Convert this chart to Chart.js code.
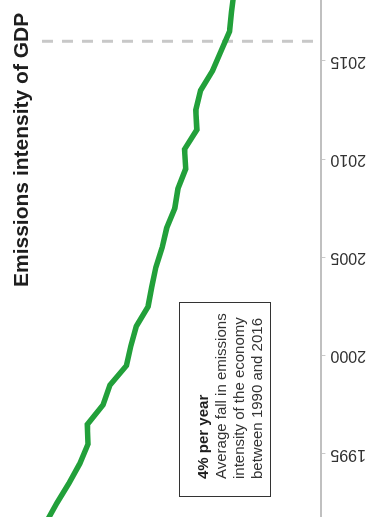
<!DOCTYPE html>
<html lang="en">
<head>
<meta charset="utf-8">
<title>Emissions intensity of GDP</title>
<script src="https://cdn.jsdelivr.net/npm/chart.js@4"></script>
<style>
  html, body { margin: 0; padding: 0; background: #fff; overflow: hidden; }
  body { width: 382px; height: 517px; position: relative; }
  /* El gráfico se dibuja en horizontal y se gira -90° para quedar como el original */
  #lienzo {
    position: absolute; left: 0; top: 0;
    width: 517px; height: 382px;
    transform-origin: 0 0;
    transform: translateY(517px) rotate(-90deg);
    font-family: "Liberation Sans", Arial, sans-serif;
  }
  #grafico { position: absolute; left: 0; top: 0; }
  .titulo {
    position: absolute; left: 230px; top: 10px;
    font-size: 21px; line-height: 21px; font-weight: bold;
    color: #1e1e1e; white-space: nowrap;
  }
  .nota {
    position: absolute; left: 20px; top: 179px;
    width: 195px; height: 92px; box-sizing: border-box;
    border: 1.3px solid #333; padding: 14px 0 0 17px;
    font-size: 15px; line-height: 18px; color: #333;
    background: #fff; white-space: nowrap;
  }
  .nota strong { color: #1e1e1e; }
</style>
</head>
<body>
<div id="lienzo">
  <canvas id="grafico" width="517" height="382"></canvas>
  <div class="titulo">Emissions intensity of GDP</div>
  <div class="nota">
    <strong>4% per year</strong><br>
    Average fall in emissions<br>
    intensity of the economy<br>
    between 1990 and 2016
  </div>
</div>
<script>
// Intensidad de emisiones (índice aprox., 1990 ≈ 100), un valor por año,
// dibujado a mitad de año.
const ANIOS = [1990, 1991, 1992, 1993, 1994, 1995, 1996, 1997, 1998, 1999,
               2000, 2001, 2002, 2003, 2004, 2005, 2006, 2007, 2008, 2009,
               2010, 2011, 2012, 2013, 2014, 2015, 2016, 2017, 2018];
const INTENSIDAD = [99.8, 96.0, 92.2, 88.0, 84.2, 81.3, 81.6, 76.1, 73.7, 67.9,
                    66.4, 64.5, 60.4, 59.1, 57.7, 55.5, 53.9, 51.1, 50.0, 47.3,
                    47.7, 43.4, 43.8, 42.1, 37.9, 35.0, 32.0, 31.3, 30.5];
const TICKS_ANIOS = [1995, 2000, 2005, 2010, 2015];

// Línea discontinua que marca el último año del periodo (2016).
const ANIO_MARCA = 2016;
const MARCA_VALORES = [97.4, 1.4];

// Ventana visible del gráfico (recorte del original).
const RANGO_ANIOS = [1991.79, 2018.1];
const RANGO_VALORES = [0, 112];

function puntosSerie() {
  return ANIOS.map((a, i) => ({ x: a + 0.5, y: INTENSIDAD[i] }));
}

function puntosMarca() {
  return MARCA_VALORES.map((v) => ({ x: ANIO_MARCA, y: v }));
}

new Chart(document.getElementById("grafico"), {
  type: "line",
  data: {
    datasets: [
      {
        data: puntosSerie(),
        borderColor: "#22a03a",
        borderWidth: 5.5,
        pointRadius: 0,
        tension: 0,
        order: 0,
      },
      {
        data: puntosMarca(),
        borderColor: "#c8c8c8",
        borderWidth: 3,
        borderDash: [11, 9],
        pointRadius: 0,
        order: 1,
      },
    ],
  },
  options: {
    responsive: false,
    animation: false,
    layout: { padding: { top: 0, left: 0, right: 0, bottom: 11 } },
    plugins: { legend: { display: false }, tooltip: { enabled: false } },
    scales: {
      x: {
        type: "linear",
        min: RANGO_ANIOS[0],
        max: RANGO_ANIOS[1],
        afterBuildTicks: (s) => { s.ticks = TICKS_ANIOS.map((v) => ({ value: v })); },
        grid: { drawOnChartArea: false, drawTicks: true, tickLength: 4, color: "#c8c8c8" },
        border: { display: true, color: "#c0c0c0", width: 2 },
        ticks: {
          minRotation: 90, maxRotation: 90, padding: 5, color: "#333",
          font: { family: "Liberation Sans", size: 16 },
          callback: (v) => String(v),
        },
      },
      y: { display: false, min: RANGO_VALORES[0], max: RANGO_VALORES[1] },
    },
  },
});
</script>
</body>
</html>
